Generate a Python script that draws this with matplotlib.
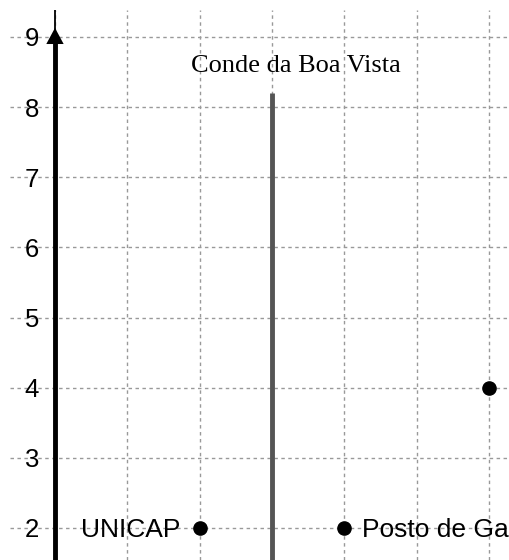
import matplotlib
matplotlib.use("Agg")
import matplotlib.pyplot as plt

# data
y_ticks = [2, 3, 4, 5, 6, 7, 8, 9]
x_grid = [0, 1, 2, 3, 4, 5, 6]
point_x = [2, 4, 6]
point_y = [2, 2, 4]
point_labels = ["UNICAP", "Posto de Ga", ""]
street_x = 3
street_top = 8.2
street_name = "Conde da Boa Vista"

fig = plt.figure(figsize=(5.1, 5.6), dpi=100)
ax = fig.add_axes([10 / 510, 0, 500 / 510, 550 / 560])
ax.set_xlim(-0.622, 6.293)
ax.set_ylim(1.543, 9.385)
ax.axis("off")

# dashed grid
for gx in x_grid:
    ax.axvline(gx, color="#999999", lw=1, ls=(0, (2.5, 2.5)), zorder=1)
for gy in y_ticks:
    ax.axhline(gy, color="#999999", lw=1, ls=(0, (2.5, 2.5)), zorder=1)

# y axis with arrow
ax.plot([0, 0], [1.0, 9.385], color="black", lw=1.3, zorder=3, solid_capstyle="butt")
ax.plot([0, 0], [1.0, 8.93], color="black", lw=3.5, zorder=3, solid_capstyle="butt")
ax.fill([-0.12, 0.12, 0], [8.9, 8.9, 9.13], color="black", zorder=4, lw=0)

for t in y_ticks:
    ax.text(-0.32, t - 0.135, str(t), ha="center", va="baseline",
            fontsize=18.5, family="Liberation Sans", zorder=5)

# street line
ax.plot([street_x, street_x], [1.0, street_top], color="#555555", lw=3.5,
        zorder=3, solid_capstyle="butt")
ax.text(3.33, 8.5, street_name, ha="center", va="baseline",
        fontsize=19, family="Liberation Serif", zorder=5)

# points
ax.plot(point_x, point_y, "o", color="black", ms=9.5, zorder=6)
ax.text(1.73, 1.87, point_labels[0], ha="right", va="baseline",
        fontsize=19, family="Liberation Sans", zorder=5)
ax.text(4.25, 1.87, point_labels[1], ha="left", va="baseline",
        fontsize=19, family="Liberation Sans", zorder=5)

fig.savefig("out.png", dpi=100)
